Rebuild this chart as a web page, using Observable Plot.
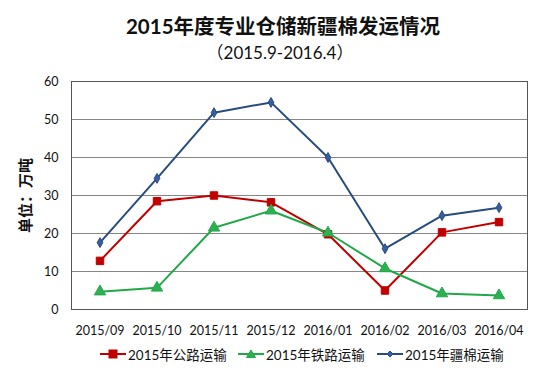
<!DOCTYPE html>
<html><head><meta charset="utf-8">
<script src="https://cdn.jsdelivr.net/npm/d3@7"></script>
<script src="https://cdn.jsdelivr.net/npm/@observablehq/plot@0.6"></script>
<style>
body{margin:0;background:#fff;font-family:Lato,"Noto Sans CJK SC",sans-serif;}
#wrap{position:relative;width:552px;height:374px;overflow:hidden;}
#title{position:absolute;top:14px;left:7px;width:552px;text-align:center;font-size:20.5px;font-weight:bold;color:#111;line-height:24px;}
#sub{position:absolute;top:42px;left:4px;width:552px;text-align:center;font-size:17px;color:#111;line-height:22px;}
#chart{position:absolute;top:68px;left:0;}
#legend{position:absolute;top:344px;left:0;width:552px;height:20px;}
.li{position:absolute;top:0;display:flex;align-items:center;font-size:13.5px;color:#111;height:20px;}
.li svg{margin-right:2px;}
</style></head>
<body><div id="wrap">
<div id="title">2015年度专业仓储新疆棉发运情况</div>
<div id="sub">（2015.9-2016.4）</div>
<div id="chart"></div>
<div id="legend"></div>
</div>
<script>
const months = ["2015/09","2015/10","2015/11","2015/12","2016/01","2016/02","2016/03","2016/04"];
const seriesNames = ["2015年公路运输","2015年铁路运输","2015年疆棉运输"];
const road = [12.8, 28.5, 30.0, 28.2, 19.8, 5.0, 20.3, 23.0];
const rail = [4.7, 5.7, 21.5, 26.0, 20.2, 10.8, 4.2, 3.7];
const xinjiang = [17.6, 34.5, 51.8, 54.5, 40.0, 16.0, 24.7, 26.8];
const yTicks = [0, 10, 20, 30, 40, 50, 60];

const colors = ["#C00000", "#22A84A", "#284C7E"];
const markerFill = ["#C00000", "#2DB04F", "#3A5CA0"];
const symbols = ["square", "triangle", "diamond"];
const sizes = [4.2, 4.2, 3];

const data = [];
[road, rail, xinjiang].forEach((arr, si) => arr.forEach((v, i) => data.push({s: seriesNames[si], m: months[i], v})));

const chart = Plot.plot({
  width: 552, height: 275,
  marginLeft: 71, marginRight: 25, marginTop: 13, marginBottom: 34,
  style: {fontFamily: 'Lato,"Noto Sans CJK SC",sans-serif', fontSize: "12px", color: "#111"},
  x: {type: "band", domain: months, padding: 0, label: null},
  y: {domain: [0, 60], ticks: yTicks, label: null},
  color: {domain: seriesNames, range: colors},
  marks: [
    Plot.ruleY(yTicks, {stroke: "#868686", strokeWidth: 1}),
    Plot.frame({stroke: "#555", strokeWidth: 1}),
    Plot.axisX({tickSize: 0, tickPadding: 17, fontSize: 12.5}),
    Plot.axisY({ticks: yTicks, tickSize: 0, tickPadding: 13, fontSize: 12.5}),
    Plot.text(["单位：万吨"], {frameAnchor: "left", textAnchor: "middle", dx: -45, rotate: -90, fontSize: 15, fontWeight: "bold"}),
    ...seriesNames.map((name, si) => Plot.line(data.filter(d => d.s === name), {x: "m", y: "v", stroke: colors[si], strokeWidth: 2})),
    ...seriesNames.map((name, si) => Plot.dot(data.filter(d => d.s === name), {x: "m", y: "v", symbol: () => symbols[si], r: sizes[si], fill: markerFill[si], stroke: colors[si], strokeWidth: 1}))
  ]
});
document.getElementById("chart").appendChild(chart);

// legend
const legend = document.getElementById("legend");
const lx = [100, 238, 377];
const symPaths = {
  square: '<rect x="9" y="6" width="8" height="8"/>',
  triangle: '<path d="M13 6 L17.5 13.5 L8.5 13.5 Z"/>',
  diamond: '<path d="M13 7 L16 10 L13 13 L10 10 Z"/>'
};
seriesNames.forEach((name, si) => {
  const d = document.createElement("div");
  d.className = "li";
  d.style.left = lx[si] + "px";
  d.innerHTML = `<svg width="26" height="20"><line x1="0" x2="26" y1="10" y2="10" stroke="${colors[si]}" stroke-width="2"/><g fill="${markerFill[si]}" stroke="${colors[si]}">${symPaths[symbols[si]]}</g></svg><span>${name}</span>`;
  legend.appendChild(d);
});
</script>
</body></html>
